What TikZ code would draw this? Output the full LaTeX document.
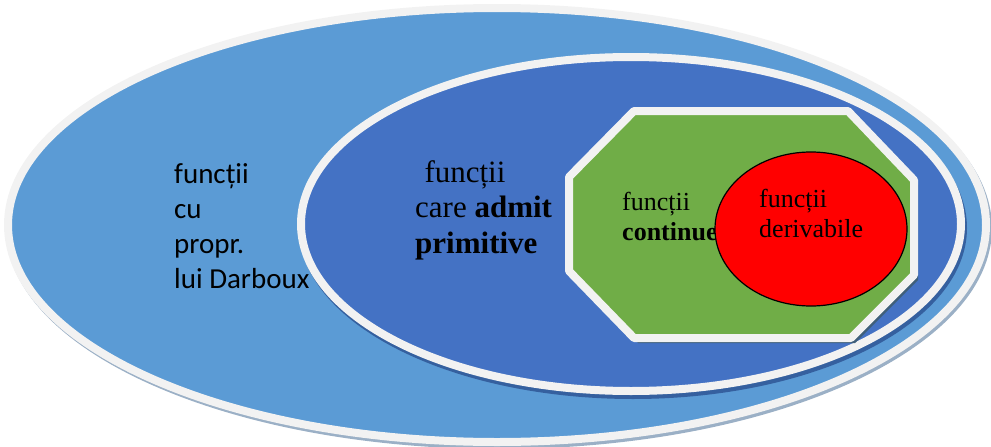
\documentclass[tikz,border=0pt]{standalone}
\usepackage{fontspec}
\setmainfont{Liberation Serif}
\newfontfamily\calibrifont{Carlito}
\definecolor{outerblue}{HTML}{5B9BD5}
\definecolor{innerblue}{HTML}{4472C4}
\definecolor{octgreen}{HTML}{70AD47}
\definecolor{rimgrey}{HTML}{F2F2F2}
\definecolor{outershadow}{HTML}{9BB0C6}
\definecolor{innershadow}{HTML}{35609F}
\definecolor{octshadow}{HTML}{3F5F7A}
\tikzset{
    rim/.style={draw=rimgrey,line width=8pt},
    lbl/.style={anchor=base west,inner sep=0pt,align=left},
}
\begin{document}
\begin{tikzpicture}[x=1pt,y=-1pt]
    \useasboundingbox (0,0) rectangle (991,447);
    \begin{scope}[line join=round]

    % outer set
    \fill[outershadow] (499,228) ellipse [x radius=493pt, y radius=221pt];
    \fill[fill=outerblue,rim] (497,225) ellipse [x radius=489pt, y radius=217pt];

    % inner set
    \fill[innershadow] (633,228) ellipse [x radius=334pt, y radius=171pt];
    \fill[fill=innerblue,rim] (631,224) ellipse [x radius=330pt, y radius=167pt];

    % octagon
    \fill[octshadow] (638,116) -- (852,116) -- (918,185) -- (918,280) -- (855,343)
        -- (638,343) -- (573,276) -- (573,182) -- cycle;
    \fill[fill=octgreen,rim] (634,111) -- (848,111) -- (914,180) -- (914,275) -- (851,338)
        -- (634,338) -- (569,271) -- (569,177) -- cycle;

    % base anchor sits on the last line
    \node[lbl,font=\fontsize{26}{30}\selectfont] (lblcont) at (622,240)
        {funcții\\\textbf{continue}};

    % red set
    \draw[fill=red,line width=1.2pt] (811,229) ellipse [x radius=96pt, y radius=77pt];

    \end{scope}

    \node[lbl,font=\calibrifont\fontsize{29}{35}\selectfont] (lbldarboux) at (174,288)
        {funcții\\cu\\propr.\\lui Darboux};
    \node[lbl,font=\fontsize{31}{35.5}\selectfont] (lblprim) at (415,253)
        {\hspace*{0.3em}funcții\\care \textbf{admit}\\\textbf{primitive}};
    \node[lbl,font=\fontsize{26}{30}\selectfont] (lblderiv) at (759,237)
        {funcții\\derivabile};
\end{tikzpicture}
\end{document}
